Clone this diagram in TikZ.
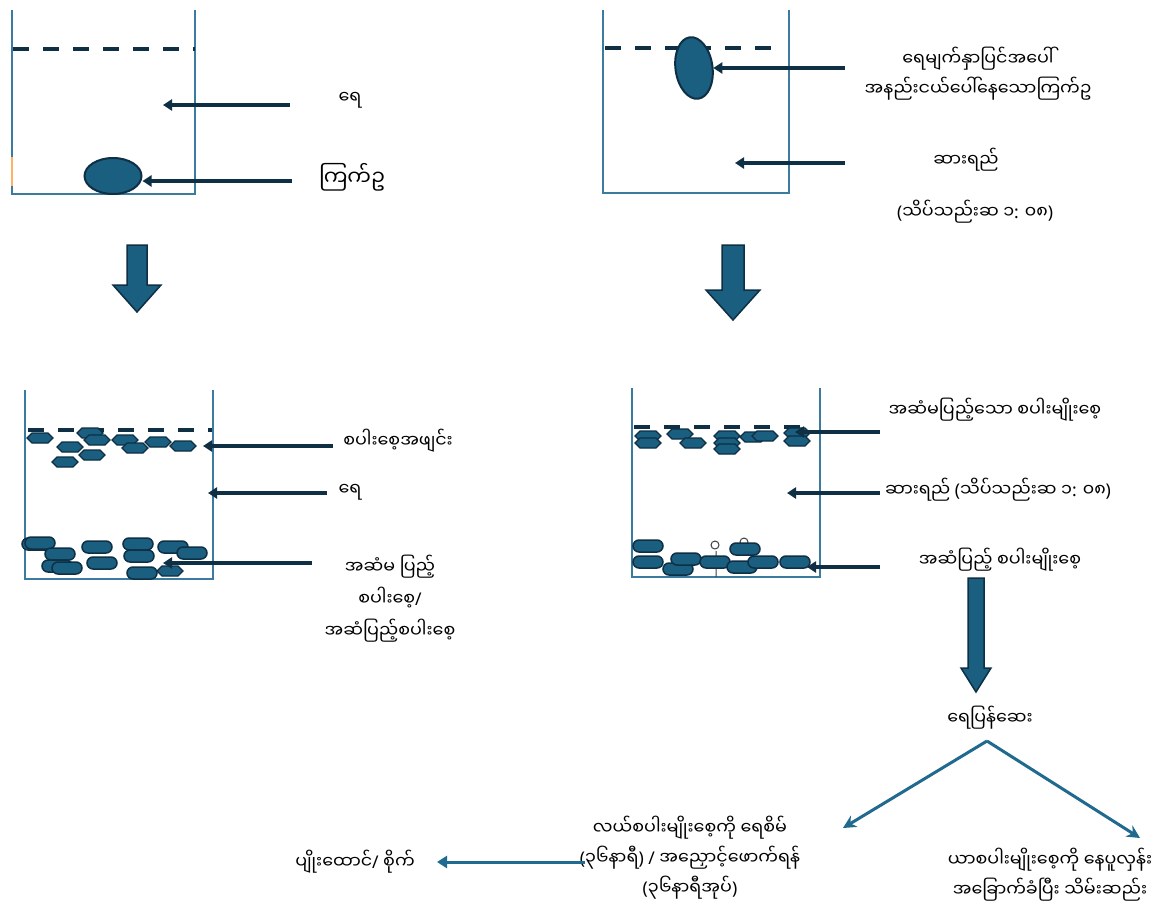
\documentclass[tikz,border=0pt]{standalone}
\usepackage{fontspec}
\usepackage{tikz}
\usetikzlibrary{arrows.meta,shapes.geometric}
\newfontfamily\mya[Script=Myanmar]{Noto Sans Myanmar UI}
\newfontfamily\lat{Noto Sans}
\newcommand{\pn}[1]{{\lat #1}}
\definecolor{navc}{HTML}{0E2F44}
\definecolor{seedc}{HTML}{1A5E80}
\definecolor{jarc}{HTML}{3B7BA0}
\definecolor{tealc}{HTML}{1F6A8E}
\tikzset{
  jar/.style={draw=jarc,line width=2pt},
  lvl/.style={draw=navc,line width=4pt,dash pattern=on 16pt off 14pt},
  ar/.style={-{Triangle[length=9pt,width=11pt]},line width=4pt,navc},
  tl/.style={-{Stealth[length=13pt,width=13pt]},line width=3pt,tealc},
  lb/.style={font=\mya\fontsize{17.5}{30}\selectfont,align=center,inner sep=0pt},
  egg/.style={ellipse,draw=navc,line width=2pt,fill=seedc,inner sep=0pt},
  sd/.style={draw=navc,line width=1.5pt,fill=seedc,rounded corners=6pt},
  hx/.style={draw=navc,line width=1.2pt,fill=seedc},
  blk/.style={draw=navc,line width=1.5pt,fill=seedc}
}
% husk (hexagon) and full grain (rounded bar)
\newcommand{\hx}[2]{\draw[hx] (#1-13,#2)--(#1-8,#2-5)--(#1+8,#2-5)--(#1+13,#2)--(#1+8,#2+5)--(#1-8,#2+5)--cycle;}
\newcommand{\sdr}[2]{\draw[sd] (#1-15,#2-6) rectangle (#1+15,#2+6);}
% block arrow pointing down: x, top, neck, tip, half shaft, half head
\newcommand{\bdn}[6]{\draw[blk] (#1-#5,#2)--(#1+#5,#2)--(#1+#5,#3)--(#1+#6,#3)--(#1,#4)--(#1-#6,#3)--(#1-#5,#3)--cycle;}

\begin{document}
\begin{tikzpicture}[x=1pt,y=-1pt]
\useasboundingbox[fill=white] (0,0) rectangle (1165,905);
% fresh water, egg sinks
\draw[jar] (12,10)--(12,194)--(195,194)--(195,10);
\draw[orange!60,line width=1.5pt] (12,157)--(12,186);
\draw[lvl] (13,49)--(195,49);
\node[egg,minimum width=57pt,minimum height=36pt] (egg1) at (113,176) {};
\node[lb] (w1) at (350,100) {ရေ};
\node[lb,font=\mya\fontsize{21}{24}\selectfont] (e1) at (352,177) {ကြက်ဥ};
\coordinate (w1t) at (290,105); \coordinate (w1h) at (163,105);
\coordinate (e1t) at (292,181);
\draw[ar] (w1t)--(w1h);
\draw[ar] (e1t)--(egg1.east |- e1t);
% salt water, egg floats
\draw[jar] (603,10)--(603,193)--(789,193)--(789,10);
\draw[lvl] (605,48)--(782,48);
\node[egg,minimum width=37pt,minimum height=62pt,rotate=8] (egg2) at (694,68) {};
\node[lb] (f2) at (978,74) {ရေမျက်နှာပြင်အပေါ်\\အနည်းငယ်ပေါ်နေသောကြက်ဥ};
\node[lb] (s2) at (966,160) {ဆားရည်};
\node[lb] (d2) at (975,212) {\pn{(}သိပ်သည်းဆ ၁\pn{:} ၀၈\pn{)}};
\coordinate (f2t) at (845,68); \coordinate (s2t) at (845,163); \coordinate (s2h) at (735,163);
\draw[ar] (f2t)--(egg2.east |- f2t);
\draw[ar] (s2t)--(s2h);
\bdn{137}{245}{285}{312}{10}{24}
\bdn{733}{245}{290}{320}{11}{27}
% grains in water
\draw[jar] (25,390)--(25,579)--(213,579)--(213,390);
\draw[lvl] (28,430)--(212,430);
\foreach \x/\y in {40/438,70/447,65/462,90/433,97/440,92/455,125/440,135/448,158/442,183/446}{\hx{\x}{\y}}
\foreach \x/\y in {37/544,40/543,60/554,57/566,67/568,97/547,102/563,138/544,139/556,142/573,173/547,192/553}{\sdr{\x}{\y}}
\hx{170}{571}
\node[lb] (h3) at (398,441) {စပါးစေ့အဖျင်း};
\node[lb] (w3) at (350,492) {ရေ};
\node[lb,font=\mya\fontsize{17.5}{32}\selectfont] (g3) at (390,599) {အဆံမ ပြည့်\\စပါးစေ့\pn{/}\\အဆံပြည့်စပါးစေ့};
\coordinate (h3t) at (333,446); \coordinate (h3h) at (203,446);
\coordinate (w3t) at (327,493); \coordinate (w3h) at (208,493);
\coordinate (g3t) at (312,563); \coordinate (g3h) at (163,563);
\draw[ar] (h3t)--(h3h);
\draw[ar] (w3t)--(w3h);
\draw[ar] (g3t)--(g3h);
% grains in salt water
\draw[jar] (632,388)--(632,577)--(820,577)--(820,388);
\draw[lvl] (634,427)--(808,427);
\foreach \x/\y in {648/436,648/443,680/434,693/443,727/436,727/443,727/449,753/437,765/436,797/433,797/441}{\hx{\x}{\y}}
\draw[darkgray,line width=1pt] (715,545) circle (4) (744,542) circle (4)
  (716,551)--(716,577) (738,545)--(738,556);
\foreach \x/\y in {648/546,648/562,678/569,686/559,715/562,745/549,742/567,763/562,795/562}{\sdr{\x}{\y}}
\node[lb] (h4) at (995,410) {အဆံမပြည့်သော စပါးမျိုးစေ့};
\node[lb] (s4) at (998,490) {ဆားရည် \pn{(}သိပ်သည်းဆ ၁\pn{:} ၀၈\pn{)}};
\node[lb] (g4) at (1000,560) {အဆံပြည့် စပါးမျိုးစေ့};
\coordinate (h4t) at (880,432); \coordinate (h4h) at (795,432);
\coordinate (s4t) at (880,493); \coordinate (s4h) at (787,493);
\coordinate (g4t) at (880,567); \coordinate (g4h) at (807,567);
\draw[ar] (h4t)--(h4h);
\draw[ar] (s4t)--(s4h);
\draw[ar] (g4t)--(g4h);
% after washing
\bdn{976}{578}{668}{692}{8}{15}
\node[lb] (r5) at (990,718) {ရေပြန်ဆေး};
\coordinate (r5b) at (987,741);
\node[lb] (l5) at (690,858) {လယ်စပါးမျိုးစေ့ကို ရေစိမ်\\\pn{(}၃၆နာရီ\pn{)} \pn{/} အညှောင့်ဖောက်ရန်\\\pn{(}၃၆နာရီအုပ်\pn{)}};
\node[lb] (u5) at (1050,875) {ယာစပါးမျိုးစေ့ကို နေပူလှန်း\\အခြောက်ခံပြီး သိမ်းဆည်း};
\node[lb] (p5) at (355,862) {ပျိုးထောင်\pn{/} စိုက်};
\coordinate (l5h) at (843,828); \coordinate (u5h) at (1140,838);
\coordinate (p5t) at (585,862); \coordinate (p5h) at (437,862);
\draw[tl] (r5b)--(l5h);
\draw[tl] (r5b)--(u5h);
\draw[tl,-{Triangle[length=10pt,width=12pt]}] (p5t)--(p5h);
\end{tikzpicture}
\end{document}
